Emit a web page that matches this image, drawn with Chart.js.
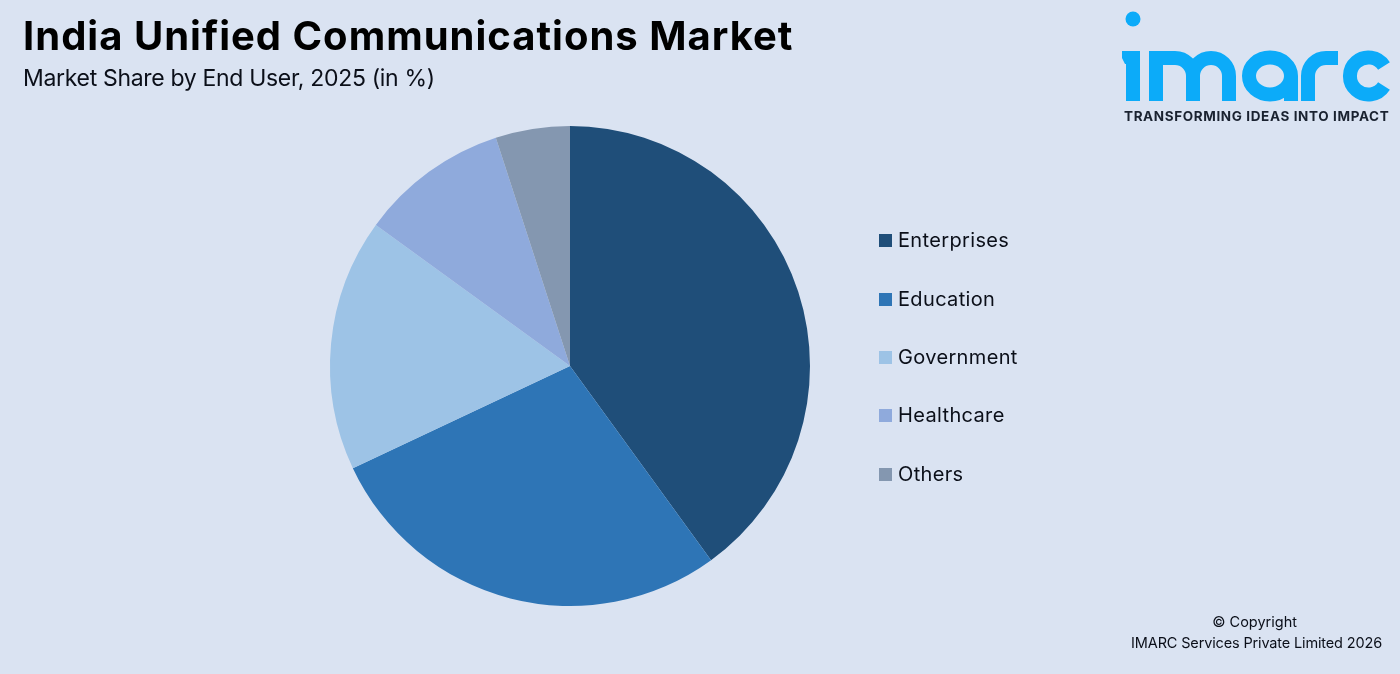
<!DOCTYPE html>
<html>
<head>
<meta charset="utf-8">
<title>India Unified Communications Market</title>
<script src="https://cdn.jsdelivr.net/npm/chart.js@4"></script>
<style>
  html, body { margin: 0; padding: 0; background: #DAE3F2; }
  #page { position: relative; width: 1400px; height: 674px; overflow: hidden; background: #DAE3F2; font-family: Inter, sans-serif; color: #0b0f19; }
  #pie { position: absolute; left: 0; top: 0; }
  .abs { position: absolute; white-space: nowrap; }
  #title { left: 23px; top: 12px; font-size: 40px; line-height: 48px; font-weight: 700; letter-spacing: 1px; color: #000; }
  #subtitle { left: 23px; top: 63px; font-size: 23px; line-height: 30px; font-weight: 400; letter-spacing: -0.32px; }
  .swatch { position: absolute; left: 879px; width: 13px; height: 13px; }
  .entry { position: absolute; left: 898px; font-size: 20px; line-height: 24px; letter-spacing: 0.35px; white-space: nowrap; }
  #tagline { left: 1124px; top: 108px; font-size: 13.5px; line-height: 17px; font-weight: 700; letter-spacing: 0.62px; color: #1a2230; }
  #copy1 { right: 103px; top: 613px; font-size: 14.5px; line-height: 18px; }
  #copy2 { right: 18px; top: 634px; font-size: 14.5px; line-height: 18px; letter-spacing: -0.15px; }
  #logo { position: absolute; left: 0; top: 0; }
</style>
</head>
<body>
<div id="page">
  <canvas id="pie" width="1400" height="674"></canvas>
  <div class="abs" id="title">India Unified Communications Market</div>
  <div class="abs" id="subtitle">Market Share by End User, 2025 (in %)</div>
  <div id="legend"></div>
  <svg id="logo" width="1400" height="130" fill="none" stroke="#0CABF9" stroke-width="14">
    <circle cx="1133" cy="19" r="7.5" fill="#0CABF9" stroke="none"/>
    <path d="M1122 51H1140V101H1126V64H1125L1122 58Z" fill="#0CABF9" stroke="none"/>
    <path d="M1156 101V58H1175a18 18 0 0 1 18 18V101M1193 76a18 18 0 0 1 18-18a18 18 0 0 1 18 18V101"/>
    <path d="M1291 101V76A21 18.5 0 1 0 1249 76A21 18.5 0 1 0 1291 76"/>
    <path d="M1308 101V76a18 18 0 0 1 18-18H1338"/>
    <path d="M1384 66A18.5 18.5 0 1 0 1384 86"/>
  </svg>
  <div class="abs" id="tagline">TRANSFORMING IDEAS INTO IMPACT</div>
  <div class="abs" id="copy1">© Copyright</div>
  <div class="abs" id="copy2">IMARC Services Private Limited 2026</div>
</div>
<script>
const endUsers = ['Enterprises', 'Education', 'Government', 'Healthcare', 'Others'];
const shares = [40, 28, 17, 10, 5];
const sliceColors = ['#1F4E79', '#2E75B6', '#9DC3E6', '#8FAADC', '#8497B0'];
const legendTops = [240, 299, 357, 415, 474];

new Chart(document.querySelector('#pie').getContext('2d'), {
    type: 'pie',
    data: {
        labels: endUsers,
        datasets: [{
            data: shares,
            backgroundColor: sliceColors,
            borderWidth: 0
        }]
    },
    options: {
        responsive: false,
        animation: false,
        devicePixelRatio: 1,
        layout: { padding: { left: 330, right: 590, top: 126, bottom: 68 } },
        plugins: {
            legend: { display: false },
            tooltip: { enabled: false }
        }
    }
});

// legend is plain html so the rows can sit where the original has them
const legend = document.querySelector('#legend');
endUsers.forEach((name, i) => {
    const box = document.createElement('div');
    box.className = 'swatch';
    box.style.top = (legendTops[i] - 6) + 'px';
    box.style.background = sliceColors[i];
    legend.appendChild(box);
    const text = document.createElement('div');
    text.className = 'entry';
    text.style.top = (legendTops[i] - 12) + 'px';
    text.textContent = name;
    legend.appendChild(text);
});
</script>
</body>
</html>
